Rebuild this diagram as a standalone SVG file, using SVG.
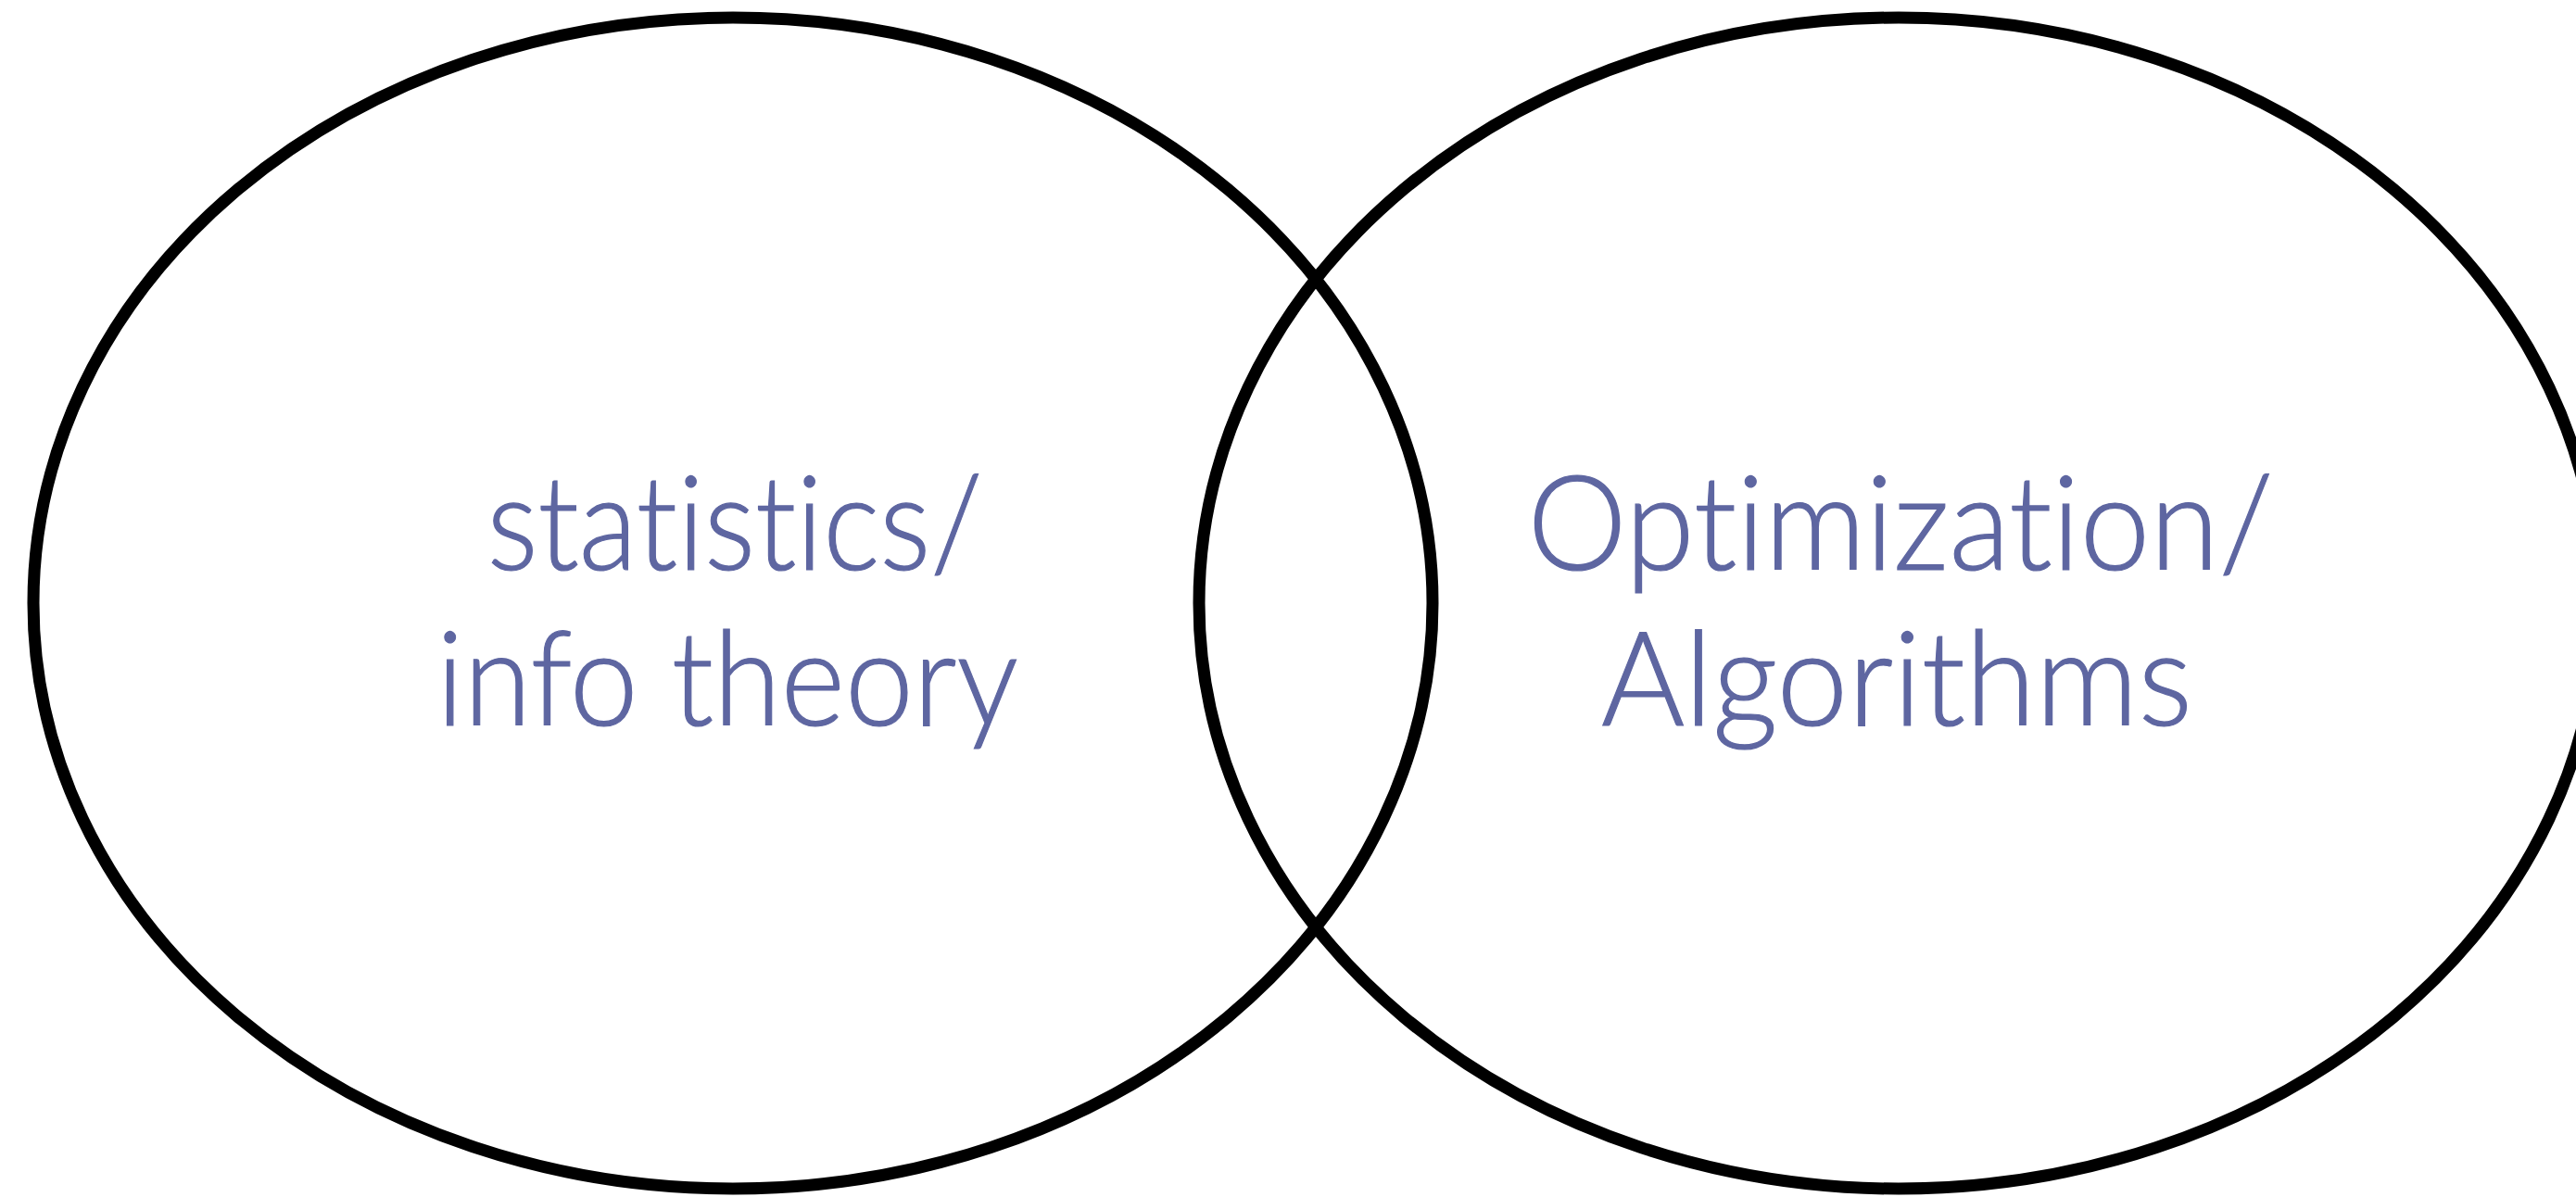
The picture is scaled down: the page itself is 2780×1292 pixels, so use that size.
<svg xmlns="http://www.w3.org/2000/svg" width="2780" height="1292" viewBox="0 0 2780 1292">
  <style>
    .ring { fill: none; stroke: #000000; stroke-width: 13; }
    .label { font-family: "Lato", "Open Sans", "Liberation Sans", sans-serif; font-weight: 300; font-size: 142px; fill: #5e66a1; stroke: #5e66a1; stroke-width: 1.2; text-anchor: middle; font-variant-ligatures: none; font-feature-settings: "liga" 0, "clig" 0, "dlig" 0; }
  </style>
  <rect x="0" y="0" width="2780" height="1292" fill="#ffffff"/>
  <g id="statistics-info-theory">
    <ellipse class="ring" cx="791" cy="651" rx="755" ry="632"/>
    <text class="label" x="793" y="615" textLength="535" lengthAdjust="spacingAndGlyphs">statistics/</text>
    <text class="label" x="785" y="783" textLength="628" lengthAdjust="spacingAndGlyphs">info theory</text>
  </g>
  <g id="optimization-algorithms">
    <ellipse class="ring" cx="2049" cy="651" rx="755" ry="632"/>
    <text class="label" x="2051" y="615" textLength="805" lengthAdjust="spacingAndGlyphs">Optimization/</text>
    <text class="label" x="2047" y="783" textLength="638" lengthAdjust="spacingAndGlyphs">Algorithms</text>
  </g>
</svg>
